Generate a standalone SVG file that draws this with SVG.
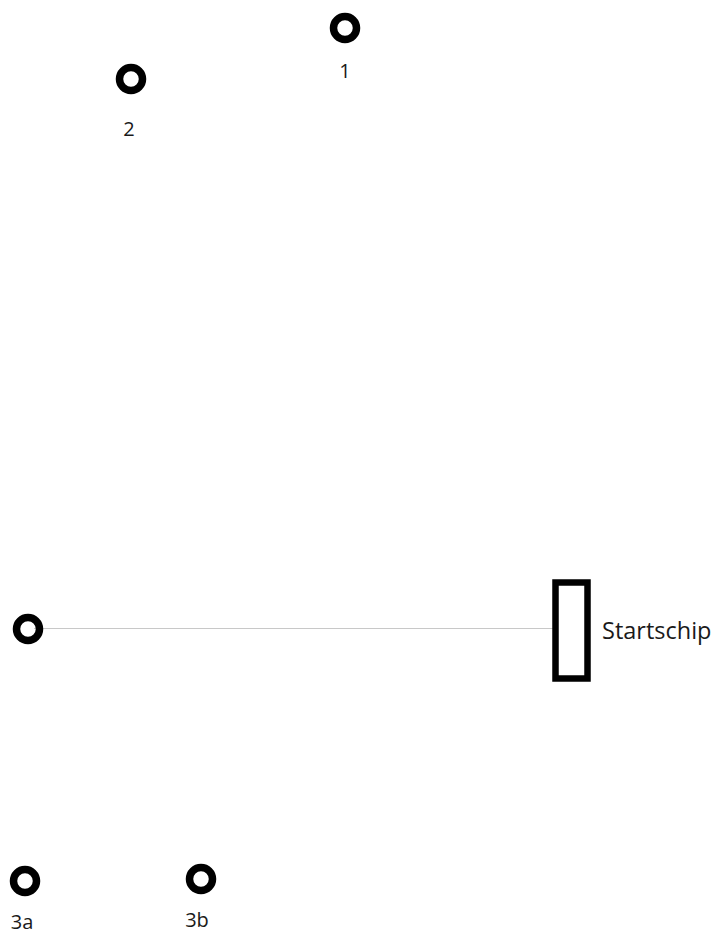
<svg xmlns="http://www.w3.org/2000/svg" width="722" height="934" viewBox="0 0 722 934">
<style>
.pt{fill:none;stroke:#000;stroke-width:7.5}
.lb{font-family:"Open Sans","Liberation Sans",sans-serif;font-size:20px;fill:#1a1a1a;text-anchor:middle}
</style>
<rect width="722" height="934" fill="#fff"/>
<g id="connectors">
<line x1="34" y1="628.5" x2="556" y2="628.5" stroke="#c8c8c8" stroke-width="1"/>
</g>
<g id="p1"><circle class="pt" cx="345" cy="28" r="11.5"/><text class="lb" x="345" y="78">1</text></g>
<g id="p2"><circle class="pt" cx="131" cy="79" r="11.5"/><text class="lb" x="129" y="136">2</text></g>
<g id="p0"><circle class="pt" cx="28" cy="629" r="11.5"/></g>
<g id="p3a"><circle class="pt" cx="25" cy="881" r="11.5"/><text class="lb" x="22" y="929">3a</text></g>
<g id="p3b"><circle class="pt" cx="201" cy="879" r="11.5"/><text class="lb" x="197" y="927">3b</text></g>
<g id="startschip"><rect x="555.5" y="582.5" width="32" height="96" fill="none" stroke="#000" stroke-width="6.5"/><text x="602" y="639" font-family="Open Sans, Liberation Sans, sans-serif" font-size="23.5" fill="#1a1a1a">Startschip</text></g>
</svg>
